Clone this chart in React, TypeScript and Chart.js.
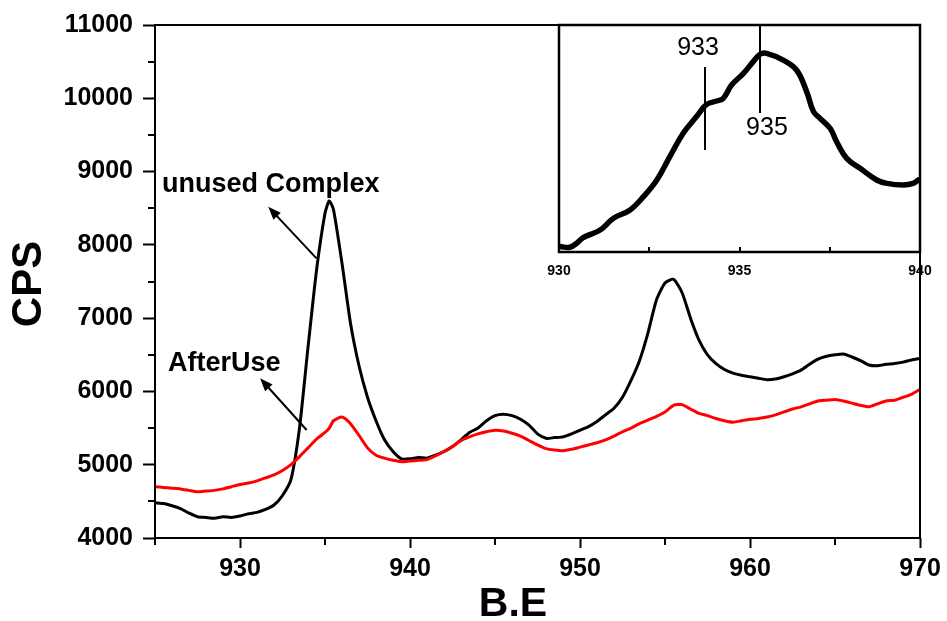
import React, { useEffect, useRef } from "react";
import { Chart, registerables } from "chart.js";
Chart.register(...registerables);

const FONT = '"Liberation Sans", Arial, sans-serif';

// Binding energy (eV) sample positions
const BE = [
  925, 925.5, 926, 926.5, 927, 927.5, 928, 928.5, 929, 929.5,
  930, 930.5, 931, 931.5, 932, 932.5, 933, 933.5, 934, 934.5,
  935, 935.25, 935.5, 936, 936.5, 937, 937.5, 938, 938.5, 939, 939.5,
  940, 940.5, 941, 941.5, 942, 942.5, 943, 943.5, 944, 944.5,
  945, 945.5, 946, 946.5, 947, 947.5, 948, 948.5, 949, 949.5,
  950, 950.5, 951, 951.5, 952, 952.5, 953, 953.5, 954, 954.5,
  955, 955.5, 956, 956.5, 957, 957.5, 958, 958.5, 959, 959.5,
  960, 960.5, 961, 961.5, 962, 962.5, 963, 963.5, 964, 964.5,
  965, 965.5, 966, 966.5, 967, 967.5, 968, 968.5, 969, 969.5, 970,
];

// unused Complex (black)
const UNUSED = [
  4480, 4470, 4440, 4400, 4340, 4290, 4280, 4270, 4290, 4280,
  4300, 4330, 4350, 4390, 4450, 4580, 4800, 5500, 6600, 7650,
  8430, 8600, 8480, 7750, 6930, 6350, 5920, 5600, 5340, 5180, 5080,
  5080, 5100, 5090, 5130, 5180, 5250, 5340, 5440, 5500, 5600,
  5670, 5690, 5670, 5620, 5540, 5420, 5360, 5370, 5380, 5420,
  5470, 5520, 5590, 5680, 5770, 5920, 6150, 6420, 6800, 7250,
  7480, 7530, 7350, 7000, 6700, 6500, 6380, 6300, 6250, 6220,
  6200, 6180, 6160, 6170, 6200, 6240, 6290, 6370, 6440, 6480,
  6500, 6510, 6470, 6420, 6360, 6350, 6370, 6380, 6400, 6430, 6450,
];

// AfterUse (red)
const AFTER_USE = [
  4700, 4690, 4680, 4670, 4650, 4630, 4640, 4650, 4670, 4700,
  4730, 4750, 4780, 4820, 4860, 4920, 5000, 5110, 5230, 5350,
  5440, 5500, 5600, 5650, 5560, 5400, 5230, 5130, 5090, 5060, 5040,
  5050, 5060, 5070, 5120, 5180, 5250, 5330, 5380, 5420, 5450,
  5470, 5460, 5430, 5390, 5330, 5270, 5220, 5200, 5190, 5210,
  5240, 5270, 5300, 5340, 5390, 5450, 5500, 5560, 5610, 5660,
  5720, 5810, 5820, 5760, 5700, 5670, 5630, 5600, 5580, 5600,
  5620, 5630, 5650, 5680, 5720, 5760, 5790, 5830, 5870, 5880,
  5890, 5870, 5840, 5810, 5790, 5830, 5870, 5880, 5920, 5960, 6030,
];

const Y_TICKS = [4000, 5000, 6000, 7000, 8000, 9000, 10000, 11000];
const Y_MINOR = [4500, 5500, 6500, 7500, 8500, 9500, 10500];
const X_TICKS = [930, 940, 950, 960, 970];
const X_MINOR = [925, 935, 945, 955, 965];

// Inset (930-940 region, arbitrary intensity)
const INSET_BE = [
  930.03, 930.3, 930.49, 930.67, 931.14, 931.51, 931.97, 932.34, 932.71, 933.07,
  933.44, 933.81, 934.09, 934.37, 934.55, 934.78, 935.11, 935.38, 935.57, 935.75,
  936.21, 936.58, 936.86, 937.05, 937.23, 937.51, 937.69, 937.97, 938.34, 938.8,
  939.08, 939.54, 939.81, 939.95,
];
const INSET_I = [
  1.5, 1.2, 3.0, 5.5, 8.9, 14.1, 17.8, 23.7, 31.1, 41.5,
  51.9, 59.3, 64.7, 66.2, 67.4, 73.3, 78.5, 83.7, 87.0, 87.4,
  84.4, 80.0, 70.4, 61.5, 58.5, 54.1, 48.1, 40.7, 36.3, 31.1,
  29.6, 28.9, 29.6, 31.1,
];
const INSET_TICKS = [930, 935, 940];
const INSET_MINOR = [932.5, 935, 937.5];

const LABELS = [
  { text: "unused Complex", x: 925.41, y: 8721 },
  { text: "AfterUse", x: 925.76, y: 6279 },
];
const ARROWS = [
  { x1: 934.5, y1: 7816, x2: 931.66, y2: 8520 },
  { x1: 933.92, y1: 5474, x2: 931.18, y2: 6179 },
];
const INSET_MARKS = [
  { x: 934.04, y1: 81.3, y2: 44.4, label: "933", lx: 933.85, ly: 89.8 },
  { x: 935.57, y1: 100, y2: 60.9, label: "935", lx: 935.76, ly: 54.2 },
];

function drawArrow(ctx: CanvasRenderingContext2D, x1: number, y1: number, x2: number, y2: number) {
  const ang = Math.atan2(y2 - y1, x2 - x1);
  const len = 13;
  const w = 5;
  ctx.beginPath();
  ctx.moveTo(x1, y1);
  ctx.lineTo(x2 - Math.cos(ang) * len * 0.8, y2 - Math.sin(ang) * len * 0.8);
  ctx.lineWidth = 2;
  ctx.strokeStyle = "#000";
  ctx.stroke();
  ctx.beginPath();
  ctx.moveTo(x2, y2);
  ctx.lineTo(x2 - Math.cos(ang) * len + Math.sin(ang) * w, y2 - Math.sin(ang) * len - Math.cos(ang) * w);
  ctx.lineTo(x2 - Math.cos(ang) * len - Math.sin(ang) * w, y2 - Math.sin(ang) * len + Math.cos(ang) * w);
  ctx.closePath();
  ctx.fillStyle = "#000";
  ctx.fill();
}

const mainPlugin = {
  id: "mainDecor",
  afterDraw(chart: any) {
    const { ctx, chartArea: a, scales } = chart;
    const xs = scales.x;
    const ys = scales.y;
    ctx.save();
    // frame
    ctx.strokeStyle = "#000";
    ctx.lineWidth = 2;
    ctx.strokeRect(a.left, a.top, a.right - a.left, a.bottom - a.top);
    // minor ticks
    ctx.beginPath();
    Y_MINOR.forEach((v) => {
      const py = Math.round(ys.getPixelForValue(v));
      ctx.moveTo(a.left, py);
      ctx.lineTo(a.left - 7, py);
    });
    X_MINOR.forEach((v) => {
      const px = Math.round(xs.getPixelForValue(v));
      ctx.moveTo(px, a.bottom);
      ctx.lineTo(px, a.bottom + 7);
    });
    ctx.stroke();
    // axis titles
    ctx.fillStyle = "#000";
    ctx.font = `bold 42px ${FONT}`;
    ctx.textAlign = "center";
    ctx.textBaseline = "middle";
    ctx.save();
    ctx.translate(29, 284);
    ctx.rotate(-Math.PI / 2);
    ctx.fillText("CPS", 0, 0);
    ctx.restore();
    ctx.font = `bold 41px ${FONT}`;
    ctx.textBaseline = "alphabetic";
    ctx.fillText("B.E", 513, 616);
    // labels
    ctx.font = `bold 27px ${FONT}`;
    ctx.textAlign = "left";
    LABELS.forEach((l) => {
      ctx.fillText(l.text, xs.getPixelForValue(l.x), ys.getPixelForValue(l.y));
    });
    ARROWS.forEach((r) => {
      drawArrow(ctx, xs.getPixelForValue(r.x1), ys.getPixelForValue(r.y1), xs.getPixelForValue(r.x2), ys.getPixelForValue(r.y2));
    });
    ctx.restore();
  },
};

const insetPlugin = {
  id: "insetDecor",
  beforeDatasetsDraw(chart: any) {
    const { ctx, chartArea: a } = chart;
    ctx.save();
    ctx.fillStyle = "#fff";
    ctx.fillRect(a.left, a.top, a.right - a.left, a.bottom - a.top);
    ctx.restore();
  },
  afterDraw(chart: any) {
    const { ctx, chartArea: a, scales } = chart;
    const xs = scales.x;
    const ys = scales.y;
    ctx.save();
    ctx.strokeStyle = "#000";
    ctx.lineWidth = 2.5;
    ctx.strokeRect(a.left, a.top, a.right - a.left, a.bottom - a.top);
    ctx.lineWidth = 2;
    ctx.beginPath();
    INSET_MINOR.forEach((v) => {
      const px = Math.round(xs.getPixelForValue(v));
      ctx.moveTo(px, a.bottom);
      ctx.lineTo(px, a.bottom - 5);
    });
    ctx.stroke();
    ctx.lineWidth = 2;
    ctx.fillStyle = "#000";
    ctx.font = `25px ${FONT}`;
    ctx.textAlign = "center";
    ctx.textBaseline = "middle";
    INSET_MARKS.forEach((m) => {
      const px = Math.round(xs.getPixelForValue(m.x));
      ctx.beginPath();
      ctx.moveTo(px, ys.getPixelForValue(m.y1));
      ctx.lineTo(px, ys.getPixelForValue(m.y2));
      ctx.stroke();
      ctx.fillText(m.label, xs.getPixelForValue(m.lx), ys.getPixelForValue(m.ly));
    });
    ctx.restore();
  },
};

export default function App() {
  const mainRef = useRef<HTMLCanvasElement | null>(null);
  const insetRef = useRef<HTMLCanvasElement | null>(null);

  useEffect(() => {
    const main = new Chart(mainRef.current as HTMLCanvasElement, {
      type: "line",
      data: {
        datasets: [
          {
            label: "AfterUse",
            data: BE.map((x, i) => ({ x, y: AFTER_USE[i] })),
            borderColor: "#ff0000",
            borderWidth: 3,
            pointRadius: 0,
            tension: 0.2,
          },
          {
            label: "unused Complex",
            data: BE.map((x, i) => ({ x, y: UNUSED[i] })),
            borderColor: "#000000",
            borderWidth: 3,
            pointRadius: 0,
            tension: 0.2,
          },
        ],
      },
      options: {
        responsive: false,
        animation: false,
        events: [],
        layout: { padding: { left: 0, top: 25, right: 27, bottom: 0 } },
        plugins: { legend: { display: false }, tooltip: { enabled: false } },
        scales: {
          x: {
            type: "linear",
            min: 925,
            max: 970,
            afterBuildTicks: (s: any) => {
              s.ticks = X_TICKS.map((v) => ({ value: v }));
            },
            afterFit: (s: any) => {
              s.height = 83;
            },
            border: { display: false },
            grid: { display: true, drawOnChartArea: false, drawTicks: true, tickLength: 10, tickWidth: 2, tickColor: "#000" },
            ticks: {
              color: "#000",
              font: { family: FONT, size: 25, weight: "bold" },
              padding: 6,
              maxRotation: 0,
              callback: (v: any) => String(v),
            },
          },
          y: {
            type: "linear",
            min: 4000,
            max: 11000,
            afterBuildTicks: (s: any) => {
              s.ticks = Y_TICKS.map((v) => ({ value: v }));
            },
            afterFit: (s: any) => {
              s.width = 155;
            },
            border: { display: false },
            grid: { display: true, drawOnChartArea: false, drawTicks: true, tickLength: 12, tickWidth: 2, tickColor: "#000" },
            ticks: {
              color: "#000",
              font: { family: FONT, size: 25, weight: "bold" },
              padding: 10,
              callback: (v: any) => String(v),
            },
          },
        },
      },
      plugins: [mainPlugin],
    });

    const inset = new Chart(insetRef.current as HTMLCanvasElement, {
      type: "line",
      data: {
        datasets: [
          {
            label: "inset",
            data: INSET_BE.map((x, i) => ({ x, y: INSET_I[i] })),
            borderColor: "#000",
            borderWidth: 5.5,
            pointRadius: 0,
            tension: 0.4,
            borderJoinStyle: "round",
            borderCapStyle: "round",
          },
        ],
      },
      options: {
        responsive: false,
        animation: false,
        events: [],
        layout: { padding: { left: 19, top: 15, right: 20, bottom: 0 } },
        plugins: { legend: { display: false }, tooltip: { enabled: false } },
        scales: {
          x: {
            type: "linear",
            min: 930,
            max: 940,
            afterBuildTicks: (s: any) => {
              s.ticks = INSET_TICKS.map((v) => ({ value: v }));
            },
            afterFit: (s: any) => {
              s.height = 38;
            },
            border: { display: false },
            grid: { display: false },
            ticks: {
              color: "#000",
              font: { family: FONT, size: 14, weight: "bold" },
              padding: 3,
              maxRotation: 0,
              callback: (v: any) => String(v),
            },
          },
          y: {
            type: "linear",
            display: false,
            min: -0.9,
            max: 100,
          },
        },
      },
      plugins: [insetPlugin],
    });

    return () => {
      main.destroy();
      inset.destroy();
    };
  }, []);

  return (
    <div style={{ position: "absolute", left: 0, top: 0, width: 947, height: 621, background: "#fff" }}>
      <canvas ref={mainRef} width={947} height={621} style={{ position: "absolute", left: 0, top: 0, display: "block" }} />
      <canvas ref={insetRef} width={400} height={280} style={{ position: "absolute", left: 540, top: 10, display: "block" }} />
    </div>
  );
}
